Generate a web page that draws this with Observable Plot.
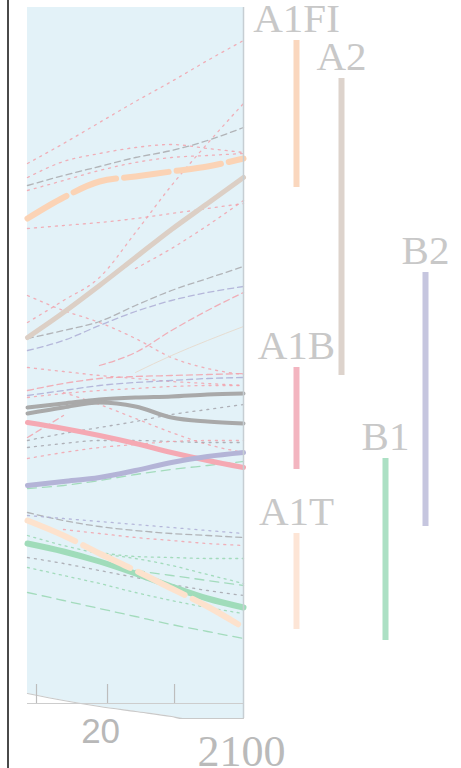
<!DOCTYPE html>
<html><head><meta charset="utf-8">
<script src="https://cdn.jsdelivr.net/npm/d3@7"></script>
<script src="https://cdn.jsdelivr.net/npm/@observablehq/plot@0.6"></script>
<style>body{margin:0;background:#fff;}#chart svg{display:block;background:#fff;}</style>
</head><body><div id="chart"></div>
<script>
// ---- data ----
const years = [2022, 2035, 2048, 2061, 2074, 2087, 2100];

// thick marker scenarios
const a1fiMarker = [25.0, 26.05, 26.85, 27.1, 27.35, 27.6, 28.0];
const a2Marker   = [19.05, 20.3, 21.65, 23.05, 24.45, 25.75, 27.05];
const grayUpper  = [15.55, 15.75, 15.95, 16.05, 16.1, 16.2, 16.25];
const grayLower  = [15.25, 15.55, 15.8, 15.6, 15.05, 14.85, 14.75];
const a1bMarker  = [14.8, 14.5, 14.15, 13.75, 13.3, 12.9, 12.55];
const b2Marker   = [11.65, 11.85, 12.05, 12.4, 12.8, 13.1, 13.3];
const b1Marker   = [8.75, 8.35, 7.85, 7.25, 6.6, 6.0, 5.55];
const a1tMarker  = [9.9, 9.15, 8.25, 7.4, 6.5, 5.6, 4.55];

// thin scenario lines
const s01 = [27.75, 28.75, 29.8, 30.85, 31.85, 32.9, 33.9];
const s02 = [27.05, 27.85, 28.25, 28.55, 28.7, 28.5, 28.3];
const s03 = [26.65, 27.15, 27.6, 28.05, 28.4, 28.9, 29.55];
const s04 = [26.4, 26.9, 27.4, 27.8, 28.05, 28.15, 28.25];
const s05 = [19.8, 20.9, 22.05, 24.3, 26.65, 28.75, 30.75];
const s06 = [24.5, 24.65, 24.8, 25.0, 25.25, 25.5, 25.75];
const s07 = [null, null, null, 22.5, 23.5, 24.65, 25.9];
const s08 = [21.15, 20.4, 19.8, 19.0, 18.05, 17.5, 17.2];
const s09 = [19.0, 19.4, 19.85, 20.65, 21.4, 22.0, 22.6];
const s10 = [18.4, 18.9, 19.65, 20.35, 20.9, 21.3, 21.6];
const s11 = [null, null, 17.65, 18.3, 19.4, 20.4, 21.3];
const s12 = [null, null, null, 17.3, 18.15, 18.9, 19.6];
const s13 = [17.55, 17.35, 17.15, 17.0, 16.85, 16.75, 16.65];
const s14 = [16.4, 16.75, 17.0, 17.1, 17.15, 17.2, 17.25];
const s15 = [16.15, 16.4, 16.65, 16.8, 16.9, 17.0, 17.05];
const s16 = [16.05, 16.25, 16.4, 16.5, 16.6, 16.65, 16.65];
const s17 = [13.9, 14.25, 14.55, 14.85, 15.2, 15.45, 15.7];
const s18 = [null, 16.3, 15.7, 15.0, 14.3, 13.7, 13.3];
const s19 = [13.55, 13.75, 13.9, 13.9, 13.85, 13.8, 13.8];
const s20 = [13.0, 13.3, 13.55, 13.7, 13.85, 13.9, 13.9];
const s21 = [14.05, 15.15, null, null, null, null, null];
const s22 = [11.5, 11.65, 11.9, 12.2, 12.45, 12.65, 12.85];
const s23 = [10.3, 9.9, 9.6, 9.4, 9.25, 9.15, 9.05];
const s24 = [10.15, 10.0, 9.85, 9.7, 9.55, 9.4, 9.25];
const s25 = [null, 9.45, 9.25, 9.05, 8.9, 8.75, 8.65];
const s26 = [8.05, 7.75, 7.4, 7.05, 6.7, 6.4, 6.15];
const s27 = [9.15, 8.65, 8.25, 8.0, 7.65, 7.2, 6.75];
const s28 = [null, null, 8.3, 8.1, 8.05, 8.0, 8.0];
const s29 = [7.55, 7.15, 6.75, 6.3, 5.9, 5.55, 5.25];
const s30 = [6.3, 5.9, 5.5, 5.1, 4.7, 4.35, 4.0];
const s31 = [null, null, null, 7.4, 7.15, 6.9, 6.65];

// 2100 ranges per scenario family
const families = ["A1FI", "A2", "B2", "A1B", "B1", "A1T"];
const rangeLow  = [26.55, 17.15, 9.6, 12.45, 3.9, 4.45];
const rangeHigh = [33.9, 32.0, 22.3, 17.55, 13.0, 9.25];

// lower boundary of the shaded panel
const floorYears  = [2022, 2035, 2048, 2061, 2074, 2078, 2100];
const floorValues = [1.25, 0.9, 0.6, 0.35, 0.1, 0, 0];

// axis
const tickYears = [2025.25, 2050.9, 2075.1];
const tickLabels = ["20", "2100"];
const tickLabelYears = [2048.4, 2099.3];

// ---- styles (kept separate from data) ----
const st = {
  pinkDot:  {stroke: "#f2a2ac", strokeWidth: 1.3, strokeDasharray: "2,5"},
  pinkDash: {stroke: "#f2a2ac", strokeWidth: 1.3, strokeDasharray: "6,4"},
  grayDash: {stroke: "#a9a9ad", strokeWidth: 1.3, strokeDasharray: "6,4"},
  grayDot:  {stroke: "#a4a4ac", strokeWidth: 1.3, strokeDasharray: "2,5"},
  lavDash:  {stroke: "#adadd5", strokeWidth: 1.3, strokeDasharray: "6,4"},
  lavDot:   {stroke: "#adadd5", strokeWidth: 1.3, strokeDasharray: "2,5"},
  beige:    {stroke: "#e6d8ca", strokeWidth: 1},
  greenDot: {stroke: "#98d7b1", strokeWidth: 1.3, strokeDasharray: "2,4.5"},
  greenDash:{stroke: "#98d7b1", strokeWidth: 1.3, strokeDasharray: "9,6"}
};
const thin = [
  [s01, "pinkDot"], [s02, "pinkDot"], [s03, "grayDash"], [s04, "pinkDot"],
  [s05, "pinkDot"], [s06, "pinkDot"], [s07, "pinkDot"], [s08, "pinkDot"],
  [s09, "grayDash"], [s10, "lavDash"], [s11, "pinkDash"], [s12, "beige"],
  [s13, "pinkDot"], [s14, "pinkDash"], [s15, "lavDash"], [s16, "pinkDot"],
  [s17, "grayDot"], [s18, "pinkDot"], [s19, "grayDot"], [s20, "pinkDot"],
  [s21, "pinkDash"], [s22, "greenDash"], [s23, "grayDash"], [s24, "lavDot"],
  [s25, "pinkDot"], [s26, "grayDot"], [s27, "greenDot"], [s28, "greenDot"],
  [s29, "greenDot"], [s30, "greenDash"], [s31, "greenDash"]
];
const thick = [
  [a2Marker,  {stroke: "#dccfc5", strokeWidth: 5}],
  [grayUpper, {stroke: "#a9a9a9", strokeWidth: 4}],
  [grayLower, {stroke: "#a9a9a9", strokeWidth: 4}],
  [a1bMarker, {stroke: "#f5a9b3", strokeWidth: 5}],
  [b2Marker,  {stroke: "#b4b4d7", strokeWidth: 5}],
  [b1Marker,  {stroke: "#a0dcba", strokeWidth: 6}],
  [a1tMarker, {stroke: "#fde2cd", strokeWidth: 6, strokeDasharray: "52,9"}],
  [a1fiMarker,{stroke: "#fbd3b5", strokeWidth: 6, strokeDasharray: "45,8"}]
];
const barColors = ["#fad7be", "#ddd3cc", "#c6c6df", "#f3b5c0", "#ace0c4", "#fde5d6"];
const barDx = [53, 98, 182, 53, 142, 53];

const rows = vals => years.map((x, i) => ({x, y: vals[i]})).filter(d => d.y != null);
const floorRows = floorYears.map((x, i) => ({x, y: floorValues[i]}));

const marks = [
  Plot.rect([0], {x1: 2022, x2: 2100, y1: 0, y2: 35.55, fill: "#e3f2f8"}),
  Plot.areaY(floorRows, {x: "x", y1: -3, y2: "y", fill: "white", curve: "monotone-x"}),
  Plot.line(floorRows, {x: "x", y: "y", stroke: "#c9c9c9", strokeWidth: 1.2, curve: "monotone-x"}),
  Plot.ruleY([0.75], {x1: 2022, x2: 2100, stroke: "#cdcdcd", strokeWidth: 1.2}),
  Plot.ruleX(tickYears, {y1: 0.75, y2: 1.7, stroke: "#bdbdbd", strokeWidth: 1.2}),
  ...thin.map(([v, k]) => Plot.line(rows(v), {x: "x", y: "y", curve: "monotone-x", strokeOpacity: 0.85, ...st[k]})),
  ...thick.map(([v, s]) => Plot.line(rows(v), {x: "x", y: "y", curve: "monotone-x", ...s})),
  Plot.ruleX([2100], {y1: 0, y2: 35.55, stroke: "#c6ced3", strokeWidth: 1.5}),
  ...families.map((f, i) => Plot.ruleX([i], {x: () => 2100, dx: barDx[i], y1: rangeLow[i], y2: rangeHigh[i], stroke: barColors[i], strokeWidth: 6})),
  ...families.map((f, i) => Plot.text([f], {x: () => 2100, dx: barDx[i], y: () => rangeHigh[i], dy: -9, text: d => d, lineAnchor: "bottom", textAnchor: "middle", fontFamily: "Liberation Serif", fontSize: 41, fill: "#c8c8c8"})),
  Plot.text([tickLabels[0]], {x: () => tickLabelYears[0], y: () => -1.2, text: d => d, lineAnchor: "bottom", textAnchor: "middle", fontFamily: "Liberation Sans", fontSize: 35, fill: "#b8b8b8"}),
  Plot.text([tickLabels[1]], {x: () => tickLabelYears[1], y: () => -2.35, text: d => d, lineAnchor: "bottom", textAnchor: "middle", fontFamily: "Liberation Serif", fontSize: 44, fill: "#bababa"}),
  Plot.ruleX([2022], {dx: -19.5, y1: -3, y2: 36, stroke: "#4a4a4a", strokeWidth: 2})
];

const chart = Plot.plot({
  width: 461, height: 768, margin: 0,
  x: {domain: [2022, 2100], range: [27, 243], axis: null},
  y: {domain: [0, 35.55], range: [718, 7], axis: null},
  marks
});
document.getElementById("chart").appendChild(chart);
</script>
</body></html>
